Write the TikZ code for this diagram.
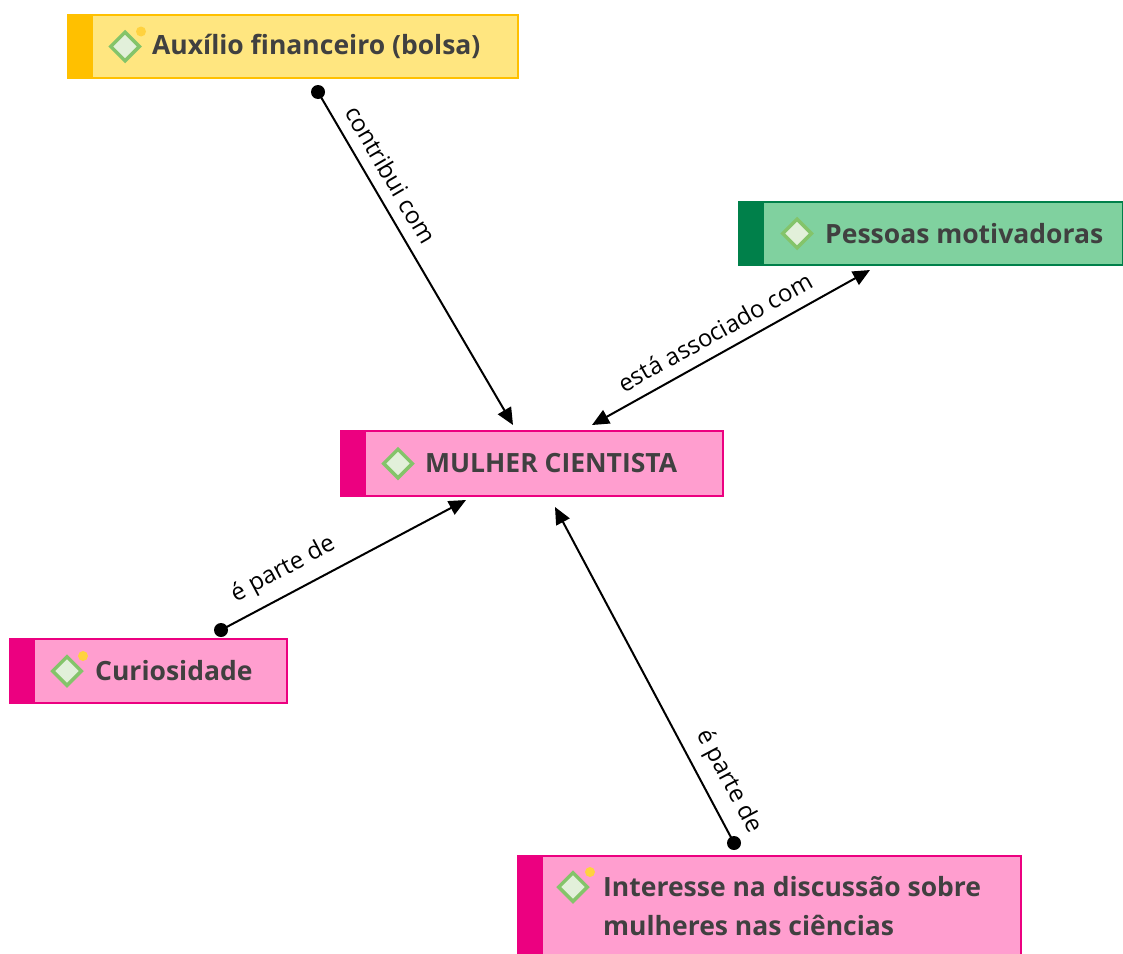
\documentclass[tikz,border=0pt]{standalone}
\usepackage{fontspec}
\setmainfont{Open Sans}
\usetikzlibrary{shapes.geometric,arrows.meta,calc}
\definecolor{ylw}{HTML}{FFC000}
\definecolor{ylwl}{HTML}{FFE680}
\definecolor{grn}{HTML}{00804A}
\definecolor{grnl}{HTML}{80D19F}
\definecolor{pnk}{HTML}{EC0080}
\definecolor{pnkl}{HTML}{FF9ECF}
\definecolor{icg}{HTML}{84C46A}
\definecolor{icf}{HTML}{E2F0DA}
\definecolor{doty}{HTML}{FFD23F}
\definecolor{txt}{HTML}{404040}
\begin{document}
\begin{tikzpicture}[x=1pt,y=-1pt,
  box/.style={draw, line width=2pt, anchor=north west, inner sep=0pt},
  icon/.style={diamond, draw=icg, fill=icf, line width=3.5pt, minimum width=30pt, minimum height=30pt, inner sep=0pt},
  newdot/.style={circle, fill=doty, minimum size=10pt, inner sep=0pt},
  boxtext/.style={font=\bfseries\fontsize{26.5}{39}\selectfont, text=txt, inner sep=0pt, anchor=west, align=left},
  lbl/.style={font=\fontsize{24}{28}\selectfont, text=black, inner sep=2pt, sloped, above=9pt},
  conn/.style={line width=2pt, draw=black},
  tip/.style={-{Triangle[length=17pt,width=15pt]}},
  tips/.style={{Triangle[length=17pt,width=15pt]}-{Triangle[length=17pt,width=15pt]}},
  enddot/.style={fill=black}
]
\useasboundingbox (0,0) rectangle (1123,953);
\clip (0,0) rectangle (1123,953);

% Auxilio
\node[box, draw=ylw, fill=ylwl, minimum width=450pt, minimum height=63pt] (aux) at (67,14) {};
\fill[ylw] (aux.north west) rectangle ($(aux.south west)+(26,0)$);
\node[icon] (auxi) at ($(aux.west)+(58,0)$) {};
\node[newdot] (auxd) at ($(auxi)+(16,-15)$) {};
\node[boxtext] (auxt) at ($(aux.west)+(85,0)$) {Auxílio financeiro (bolsa)};

% Pessoas
\node[box, draw=grn, fill=grnl, minimum width=384pt, minimum height=63pt] (pm) at (738,201) {};
\fill[grn] (pm.north west) rectangle ($(pm.south west)+(26,0)$);
\node[icon] (pmi) at ($(pm.west)+(59,0)$) {};
\node[boxtext] (pmt) at ($(pm.west)+(87,0)$) {Pessoas motivadoras};

% Mulher cientista
\node[box, draw=pnk, fill=pnkl, minimum width=382pt, minimum height=65pt] (mc) at (340,430) {};
\fill[pnk] (mc.north west) rectangle ($(mc.south west)+(26,0)$);
\node[icon] (mci) at ($(mc.west)+(58,0)$) {};
\node[boxtext] (mct) at ($(mc.west)+(85,0)$) {MULHER CIENTISTA};

% Curiosidade
\node[box, draw=pnk, fill=pnkl, minimum width=277pt, minimum height=64pt] (cu) at (9,638) {};
\fill[pnk] (cu.north west) rectangle ($(cu.south west)+(26,0)$);
\node[icon] (cui) at ($(cu.west)+(58,0)$) {};
\node[newdot] (cud) at ($(cui)+(16,-15)$) {};
\node[boxtext] (cut) at ($(cu.west)+(86,0)$) {Curiosidade};

% Interesse
\node[box, draw=pnk, fill=pnkl, minimum width=503pt, minimum height=120pt] (in) at (517,855) {};
\fill[pnk] (in.north west) rectangle ($(in.south west)+(26,0)$);
\node[icon] (ini) at ($(in.north west)+(56,32)$) {};
\node[newdot] (ind) at ($(ini)+(17,-15)$) {};
\node[boxtext, anchor=west] (int) at ($(in.north west)+(86,51.5)$) {Interesse na discussão sobre\\mulheres nas ciências};

% connectors
\coordinate (c1s) at ($(aux.south west)+(251,13)$);
\coordinate (c1e) at ($(mc.north west)+(173,-5)$);
\draw[conn, tip] (c1s) -- node[lbl, pos=0.28] {contribui com} (c1e);
\fill[enddot] (c1s) circle (7);

\coordinate (c2s) at ($(mc.north west)+(252,-5)$);
\coordinate (c2e) at ($(pm.south west)+(132,4)$);
\draw[conn, tips] (c2s) -- node[lbl, pos=0.48] {está associado com} (c2e);

\coordinate (c3s) at ($(cu.north west)+(212,-8)$);
\coordinate (c3e) at ($(mc.south west)+(126,3)$);
\draw[conn, tip] (c3s) -- node[lbl, pos=0.3] {é parte de} (c3e);
\fill[enddot] (c3s) circle (7);

\coordinate (c4s) at ($(in.north west)+(217,-12)$);
\coordinate (c4e) at ($(mc.south west)+(215,10)$);
\draw[conn, tip] (c4s) -- node[lbl, pos=0.15] {é parte de} (c4e);
\fill[enddot] (c4s) circle (7);
\end{tikzpicture}
\end{document}
